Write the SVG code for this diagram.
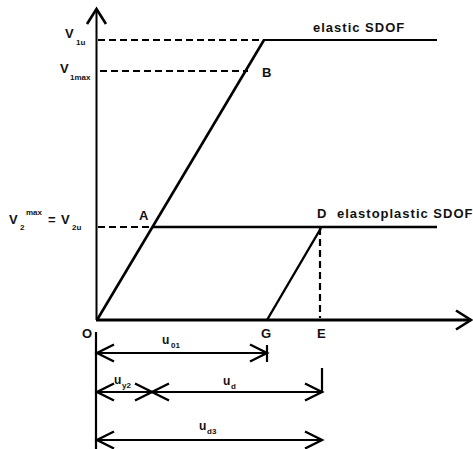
<svg xmlns="http://www.w3.org/2000/svg" width="473" height="449" viewBox="0 0 473 449">
<style>
.t{font-family:"Liberation Sans",Arial,sans-serif;font-weight:bold;fill:#111;}
.lab{font-size:13px;}
.sub{font-size:8px;}
.u{font-size:12px;}
.cap{font-size:13px;letter-spacing:1px;}
.ln{stroke:#000;fill:none;stroke-linecap:butt;}
.dash{stroke:#000;fill:none;stroke-width:2.2;stroke-dasharray:7 4;}
.dim{stroke:#000;fill:none;stroke-width:2.2;marker-start:url(#chev);marker-end:url(#chev);}
</style>
<defs>
<marker id="chev" markerUnits="userSpaceOnUse" markerWidth="24" markerHeight="24" viewBox="-20 -12 24 24" refX="0" refY="0" orient="auto-start-reverse">
<path d="M-17,-8.5 L0,0 L-17,8.5" fill="none" stroke="#000" stroke-width="2.4"/>
</marker>
<marker id="ax" markerUnits="userSpaceOnUse" markerWidth="22" markerHeight="24" viewBox="-18 -12 22 24" refX="0" refY="0" orient="auto">
<path d="M-15,-9.5 L0,0 L-15,9.5" fill="none" stroke="#000" stroke-width="2.6"/>
</marker>
</defs>
<rect width="473" height="449" fill="#fff"/>

<g id="axes">
<line class="ln" x1="96.5" y1="320" x2="96.5" y2="9" stroke-width="2" marker-end="url(#ax)"/>
<line class="ln" x1="96" y1="320" x2="471" y2="320" stroke-width="3" marker-end="url(#ax)"/>
</g>

<g id="connectors">
<line class="dash" x1="98" y1="40" x2="264" y2="40"/>
<line class="dash" x1="100" y1="71" x2="248" y2="71"/>
<line class="dash" x1="98" y1="227" x2="151" y2="227"/>
<line class="dash" x1="320" y1="228" x2="320" y2="318"/>
<line class="ln" x1="264" y1="40" x2="437" y2="40" stroke-width="1.8"/>
<line class="ln" x1="97" y1="320" x2="264" y2="40" stroke-width="2.6"/>
<line class="ln" x1="152" y1="227" x2="437" y2="227" stroke-width="2.6"/>
<line class="ln" x1="267" y1="320" x2="321" y2="228" stroke-width="2.4"/>
</g>

<g id="labels">
<text class="t lab" x="65" y="38">V</text>
<text class="t sub" x="76" y="45">1u</text>
<text class="t lab" x="60" y="73">V</text>
<text class="t sub" x="70" y="80">1max</text>
<text class="t lab" x="9" y="224">V</text>
<text class="t sub" x="20" y="230">2</text>
<text class="t sub" x="26" y="215">max</text>
<text class="t lab" x="48" y="224">=</text>
<text class="t lab" x="61" y="224">V</text>
<text class="t sub" x="72" y="230">2u</text>
<text class="t lab" x="262" y="77">B</text>
<text class="t lab" x="139" y="220">A</text>
<text class="t lab" x="317" y="218">D</text>
<text class="t cap" x="313" y="32">elastic SDOF</text>
<text class="t cap" x="337" y="218">elastoplastic SDOF</text>
<text class="t lab" x="82" y="338">O</text>
<text class="t lab" x="261" y="338">G</text>
<text class="t lab" x="317" y="338">E</text>
</g>

<g id="dimensions">
<line class="ln" x1="96" y1="332" x2="96" y2="449" stroke-width="2.2"/>
<line class="ln" x1="267" y1="345" x2="267" y2="362" stroke-width="2.2"/>
<line class="ln" x1="322" y1="368" x2="322" y2="393" stroke-width="2.2"/>
<line class="dim" x1="97" y1="353" x2="267" y2="353"/>
<line class="dim" x1="97" y1="392" x2="152" y2="392"/>
<line class="dim" x1="152" y1="392" x2="322" y2="392"/>
<line class="dim" x1="97" y1="440" x2="322" y2="440"/>
<text class="t u" x="162" y="344">u</text>
<text class="t sub" x="171" y="348">01</text>
<text class="t u" x="114" y="384">u</text>
<text class="t sub" x="122" y="388">y2</text>
<text class="t u" x="223" y="385">u</text>
<text class="t sub" x="231" y="389">d</text>
<text class="t u" x="199" y="430">u</text>
<text class="t sub" x="207" y="434">d3</text>
</g>
</svg>
